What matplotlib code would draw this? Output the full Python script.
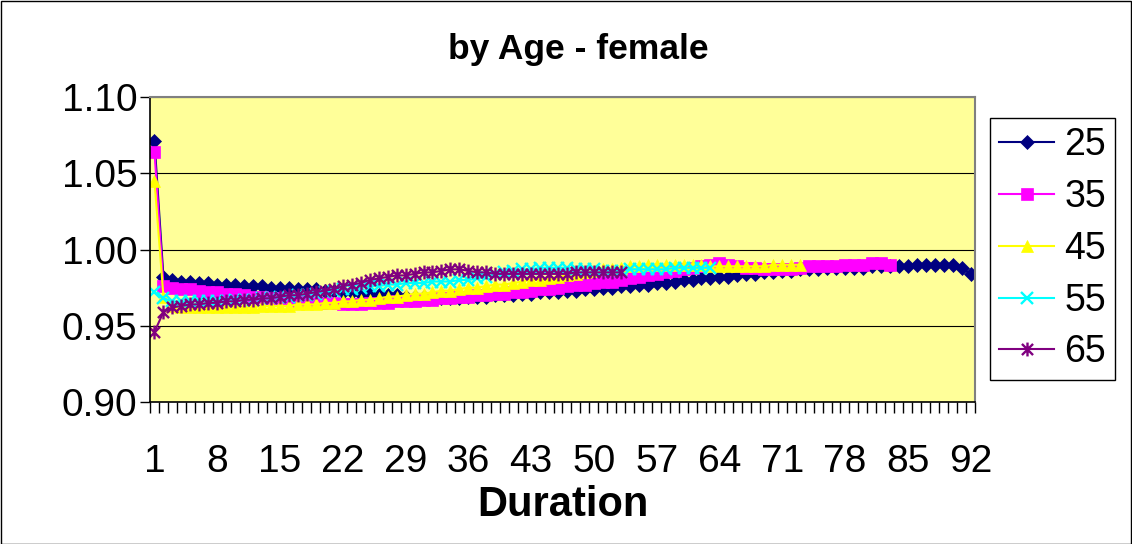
import matplotlib
matplotlib.use("Agg")
import matplotlib.pyplot as plt
from matplotlib.path import Path
from matplotlib.patches import Rectangle

plt.rcParams['font.family'] = ['Liberation Sans', 'DejaVu Sans']

title = "by Age - female"
xlabel = "Duration"
series_names = ["25", "35", "45", "55", "65"]

age25 = [1.071, 0.982, 0.980, 0.979, 0.979, 0.978, 0.978, 0.977, 0.977, 0.977,
         0.976, 0.976, 0.976, 0.975, 0.975, 0.975, 0.974, 0.974, 0.974, 0.973,
         0.973, 0.972, 0.972, 0.971, 0.971, 0.970, 0.970, 0.970, 0.969, 0.969,
         0.969, 0.968, 0.968, 0.968, 0.968, 0.969, 0.969, 0.969, 0.970, 0.970,
         0.970, 0.971, 0.971, 0.972, 0.972, 0.972, 0.973, 0.973, 0.974, 0.974,
         0.975, 0.975, 0.976, 0.976, 0.977, 0.977, 0.978, 0.978, 0.979, 0.980,
         0.980, 0.981, 0.981, 0.982, 0.982, 0.983, 0.984, 0.984, 0.985, 0.985,
         0.986, 0.986, 0.987, 0.987, 0.987, 0.988, 0.988, 0.988, 0.988, 0.988,
         0.989, 0.989, 0.989, 0.989, 0.989, 0.990, 0.990, 0.990, 0.990, 0.990,
         0.988, 0.984]
age35 = [1.064, 0.976, 0.975, 0.974, 0.974, 0.973, 0.972, 0.972, 0.971, 0.971,
         0.970, 0.969, 0.969, 0.968, 0.968, 0.967, 0.966, 0.966, 0.965, 0.965,
         0.965, 0.964, 0.964, 0.964, 0.965, 0.965, 0.965, 0.966, 0.966, 0.966,
         0.967, 0.967, 0.968, 0.968, 0.969, 0.969, 0.970, 0.970, 0.971, 0.971,
         0.972, 0.972, 0.973, 0.974, 0.974, 0.975, 0.976, 0.977, 0.977, 0.978,
         0.979, 0.979, 0.980, 0.981, 0.982, 0.983, 0.984, 0.985, 0.986, 0.987,
         0.988, 0.989, 0.990, 0.991, 0.990, 0.989, 0.988, 0.988, 0.987, 0.987,
         0.987, 0.987, 0.988, 0.989, 0.989, 0.989, 0.989, 0.990, 0.990, 0.990,
         0.991, 0.991, 0.990]
age45 = [1.045, 0.969, 0.963, 0.962, 0.962, 0.962, 0.962, 0.962, 0.962, 0.962,
         0.962, 0.962, 0.963, 0.963, 0.963, 0.963, 0.964, 0.964, 0.964, 0.965,
         0.965, 0.966, 0.966, 0.967, 0.967, 0.968, 0.969, 0.969, 0.970, 0.971,
         0.971, 0.972, 0.973, 0.973, 0.974, 0.975, 0.975, 0.976, 0.977, 0.977,
         0.978, 0.979, 0.980, 0.980, 0.981, 0.982, 0.983, 0.984, 0.985, 0.986,
         0.987, 0.987, 0.988, 0.989, 0.989, 0.990, 0.990, 0.990, 0.990, 0.990,
         0.990, 0.990, 0.989, 0.989, 0.989, 0.989, 0.989, 0.989, 0.989, 0.990,
         0.990, 0.990, 0.990]
age55 = [0.972, 0.968, 0.966, 0.966, 0.966, 0.966, 0.966, 0.966, 0.966, 0.967,
         0.967, 0.967, 0.968, 0.968, 0.969, 0.969, 0.970, 0.970, 0.971, 0.972,
         0.973, 0.974, 0.974, 0.975, 0.976, 0.976, 0.977, 0.977, 0.978, 0.978,
         0.978, 0.979, 0.979, 0.979, 0.980, 0.980, 0.981, 0.982, 0.984, 0.985,
         0.986, 0.987, 0.987, 0.988, 0.988, 0.988, 0.988, 0.987, 0.987, 0.987,
         0.986, 0.986, 0.986, 0.987, 0.987, 0.987, 0.987, 0.987, 0.988, 0.988,
         0.988, 0.988, 0.988]
age65 = [0.946, 0.959, 0.962, 0.963, 0.964, 0.964, 0.965, 0.965, 0.966, 0.966,
         0.967, 0.967, 0.968, 0.968, 0.969, 0.970, 0.970, 0.971, 0.972, 0.973,
         0.974, 0.976, 0.977, 0.978, 0.980, 0.981, 0.982, 0.983, 0.983, 0.984,
         0.985, 0.985, 0.986, 0.987, 0.987, 0.986, 0.985, 0.985, 0.984, 0.984,
         0.984, 0.984, 0.984, 0.984, 0.984, 0.984, 0.984, 0.985, 0.985, 0.985,
         0.985, 0.985, 0.985]

xtick_labels = [1, 8, 15, 22, 29, 36, 43, 50, 57, 64, 71, 78, 85, 92]
yticks = [0.90, 0.95, 1.00, 1.05, 1.10]
n_categories = 92

colors = ["#000080", "#FF00FF", "#FFFF00", "#00FFFF", "#800080"]

asterisk = Path([(0, -1), (0, 1), (-0.8, -0.8), (0.8, 0.8), (-0.8, 0.8), (0.8, -0.8)],
                [Path.MOVETO, Path.LINETO, Path.MOVETO, Path.LINETO, Path.MOVETO, Path.LINETO])
markers = ["D", "s", "^", "x", asterisk]
msizes = [7.5, 8, 9, 8.5, 10]

W, H = 1132, 544
fig = plt.figure(figsize=(W / 100, H / 100), dpi=100)
fig.patches.append(Rectangle((0.5 / W, 0.5 / H), 1 - 1.5 / W, 1 - 1.5 / H,
                             transform=fig.transFigure, fill=False,
                             edgecolor="black", linewidth=1))

ax = fig.add_axes([150 / W, 1 - 402 / H, 825 / W, 305 / H])
ax.set_facecolor("#FFFF99")

data = [age25, age35, age45, age55, age65]
for name, vals, c, m, ms in zip(series_names, data, colors, markers, msizes):
    x = list(range(1, len(vals) + 1))
    if m == "x" or m is asterisk:
        ax.plot(x, vals, color=c, linewidth=1.5, marker=m, markersize=ms,
                markeredgecolor=c, markeredgewidth=1.7, label=name)
    else:
        ax.plot(x, vals, color=c, linewidth=1.5, marker=m, markersize=ms,
                markerfacecolor=c, markeredgecolor=c, markeredgewidth=0.5, label=name)

ax.set_xlim(0.5, n_categories + 0.5)
ax.set_ylim(0.90, 1.10)
ax.set_yticks(yticks)
ax.set_yticklabels([f"{v:.2f}" for v in yticks])
ax.yaxis.grid(True, color="black", linewidth=0.8)
ax.set_axisbelow(True)

ax.set_xticks(xtick_labels)
ax.set_xticklabels([str(v) for v in xtick_labels])
ax.set_xticks([i + 0.5 for i in range(0, n_categories + 1)], minor=True)
ax.tick_params(axis="x", which="major", length=0, pad=30, labelsize=28)
ax.tick_params(axis="x", which="minor", length=8, width=1, direction="out", color="black")
ax.tick_params(axis="y", which="major", length=7, width=1, pad=2, labelsize=28)

for s in ["left", "bottom"]:
    ax.spines[s].set_color("black")
    ax.spines[s].set_linewidth(1.2)
for s in ["top", "right"]:
    ax.spines[s].set_color("#808080")
    ax.spines[s].set_linewidth(1.5)

fig.text(578 / W, 1 - 50 / H, title, ha="center", va="center", fontsize=25.5, fontweight="bold")
fig.text(563 / W, 1 - 505 / H, xlabel, ha="center", va="center", fontsize=30, fontweight="bold")

leg = ax.legend(loc="upper left", bbox_to_anchor=(990 / W, 1 - 118 / H),
                bbox_transform=fig.transFigure, borderaxespad=0, fontsize=27,
                frameon=True, fancybox=False, edgecolor="black", framealpha=1,
                handlelength=1.45, handletextpad=0.28, labelspacing=0.42,
                borderpad=0.25, numpoints=1)
leg.get_frame().set_linewidth(1.0)

fig.savefig("out.png", dpi=100)
